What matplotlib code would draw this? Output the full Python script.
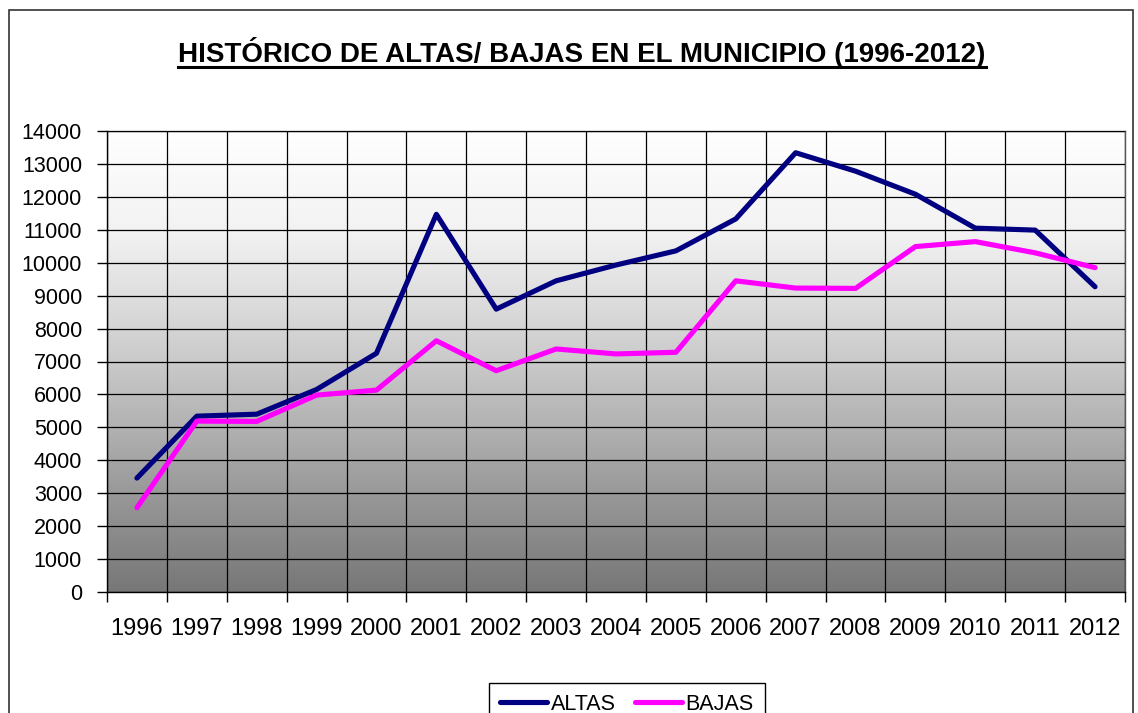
import matplotlib.pyplot as plt
import matplotlib.patches as mpatches
import numpy as np
from matplotlib.colors import LinearSegmentedColormap
from matplotlib.lines import Line2D

years = ['1996', '1997', '1998', '1999', '2000', '2001', '2002', '2003', '2004',
         '2005', '2006', '2007', '2008', '2009', '2010', '2011', '2012']
altas = [3460, 5340, 5400, 6150, 7250, 11470, 8590, 9450, 9930,
         10360, 11330, 13340, 12780, 12080, 11050, 10990, 9270]
bajas = [2560, 5190, 5180, 5980, 6130, 7630, 6720, 7380, 7230,
         7280, 9450, 9230, 9220, 10490, 10640, 10300, 9850]
y_ticks = list(range(0, 14001, 1000))
title = 'HISTÓRICO DE ALTAS/ BAJAS EN EL MUNICIPIO (1996-2012)'

plt.rcParams['font.family'] = ['Liberation Sans', 'DejaVu Sans']

fig = plt.figure(figsize=(11.38, 7.13), dpi=100)
ax = fig.add_axes([107 / 1138, 1 - 592 / 713, (1125 - 107) / 1138, (592 - 131) / 713])

n = len(years)
x = np.arange(n)
ax.set_xlim(-0.5, n - 0.5)
ax.set_ylim(0, 14000)

# gradient fill of the plot area (grey at bottom -> white at top)
bg = LinearSegmentedColormap.from_list(
    'bg', [(0.0, '#777777'), (0.22, '#9a9a9a'), (0.5, '#cacaca'),
           (0.78, '#f2f2f2'), (1.0, '#ffffff')])
grad = np.linspace(0, 1, 256).reshape(-1, 1)
ax.imshow(grad, extent=(-0.5, n - 0.5, 0, 14000), aspect='auto', origin='lower',
          cmap=bg, zorder=0)

ax.plot(x, altas, color='#000080', lw=3.7, solid_capstyle='round', zorder=3, label='ALTAS')
ax.plot(x, bajas, color='#ff00ff', lw=3.7, solid_capstyle='round', zorder=3, label='BAJAS')

# grid at category boundaries, labels at category centres
ax.set_xticks(np.arange(-0.5, n, 1.0))
ax.set_xticklabels([])
ax.set_xticks(x, minor=True)
ax.set_xticklabels(years, minor=True)
ax.set_yticks(y_ticks)
ax.set_yticklabels([str(v) for v in y_ticks])
ax.tick_params(axis='x', which='major', direction='out', length=7, width=1, color='black')
ax.tick_params(axis='x', which='minor', length=0, pad=19, labelsize=17)
ax.tick_params(axis='y', direction='out', length=7, width=1, color='black', pad=11, labelsize=15.5)
ax.grid(True, which='major', color='black', lw=0.9, zorder=1)
ax.set_axisbelow(False)
for sp in ax.spines.values():
    sp.set_color('#555555')
    sp.set_linewidth(1)
ax.spines['left'].set_color('black')
ax.spines['bottom'].set_color('black')

# outer chart border
fig.patches.append(mpatches.Rectangle((9 / 1138, -0.05), (1133 - 9) / 1138, 1.05 - 10 / 713,
                                      transform=fig.transFigure, fill=False,
                                      edgecolor='#333333', lw=1.2))

t = fig.text(582 / 1138, 1 - 53 / 713, title, ha='center', va='center',
             fontsize=20, fontweight='bold')
fig.canvas.draw()
bb = t.get_window_extent()
uy = (713 - 67) / 713
fig.add_artist(Line2D([bb.x0 / 1138, bb.x1 / 1138], [uy, uy], color='black', lw=2.2,
                      transform=fig.transFigure))

fig.legend(loc='upper center', bbox_to_anchor=(627 / 1138, 1 - 672 / 713), ncol=2,
           frameon=True, fancybox=False, edgecolor='black', framealpha=1,
           fontsize=15.5, handlelength=2.2, columnspacing=0.9, handletextpad=0.15,
           borderpad=0.5)

fig.savefig('out.png', dpi=100)
plt.close(fig)
